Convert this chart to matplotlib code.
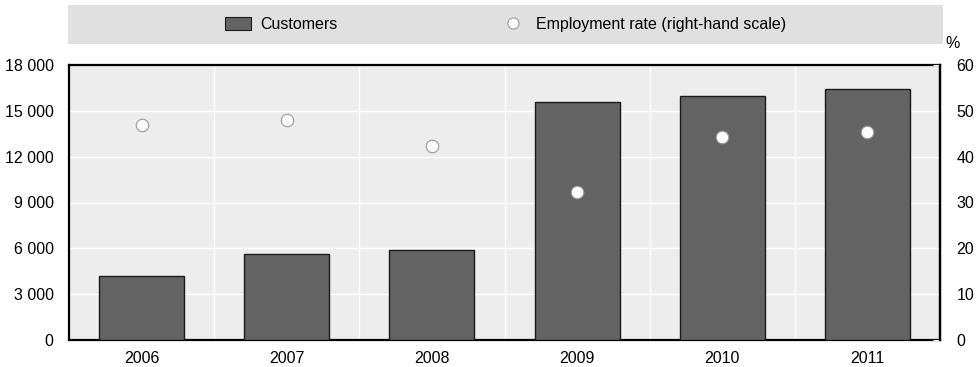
import matplotlib
matplotlib.use("Agg")
import matplotlib.pyplot as plt
import matplotlib.patches as mpatches
from matplotlib.lines import Line2D
from matplotlib.ticker import FuncFormatter

years = ["2006", "2007", "2008", "2009", "2010", "2011"]
customers = [4200, 5650, 5900, 15600, 15950, 16450]
employment_rate = [47.0, 47.9, 42.3, 32.3, 44.3, 45.4]

left_ticks = [0, 3000, 6000, 9000, 12000, 15000, 18000]
right_ticks = [0, 10, 20, 30, 40, 50, 60]

plt.rcParams['font.family'] = ['Liberation Sans Narrow', 'Liberation Sans', 'DejaVu Sans']
plt.rcParams['font.size'] = 11.5

BAR = '#636363'
BG = '#EDEDED'
BAND = '#E0E0E0'

W, H = 980, 367
fig = plt.figure(figsize=(W / 100, H / 100), dpi=100)

# main plot area (pixel box: x 69..940, y 65..340)
ax = fig.add_axes([69 / W, 1 - 340 / H, 871 / W, 275 / H])
ax.set_facecolor(BG)

x = list(range(len(years)))
ax.bar(x, customers, width=0.585, color=BAR, edgecolor='#1a1a1a',
       linewidth=1.0, zorder=3)

ax.set_xlim(-0.5, len(years) - 0.5)
ax.set_ylim(0, 18000)
ax.set_yticks(left_ticks)
ax.yaxis.set_major_formatter(FuncFormatter(lambda v, p: f"{int(v):,}".replace(",", " ")))
ax.set_xticks(x)
ax.set_xticklabels(years)
ax.tick_params(axis='both', length=0, pad=8, colors='black')
ax.tick_params(axis='y', pad=11)

# white grid: horizontal at ticks, vertical between categories
for v in left_ticks[1:-1]:
    ax.axhline(v, color='white', linewidth=1.0, zorder=1)
for b in range(1, len(years)):
    ax.axvline(b - 0.5, color='white', linewidth=1.0, zorder=1)

for side in ax.spines.values():
    side.set_linewidth(1.6)
    side.set_color('black')

ax2 = ax.twinx()
ax2.plot(x, employment_rate, linestyle='none', marker='o', markersize=9,
         markerfacecolor='white', markeredgecolor='#999999',
         markeredgewidth=0.8, zorder=5)
ax2.set_ylim(0, 60)
ax2.set_yticks(right_ticks)
ax2.tick_params(axis='y', direction='in', length=5, width=0.8,
                color='white', pad=12)
for name, side in ax2.spines.items():
    side.set_visible(name == 'right')
ax2.spines['right'].set_linewidth(1.6)
ax2.spines['right'].set_color('black')
fig.text(953 / W, 1 - 43 / H, "%", ha='center', va='center', fontsize=11.5)

# legend band across the top
lax = fig.add_axes([68 / W, 1 - 44 / H, 875 / W, 39 / H])
lax.set_facecolor(BAND)
lax.set_xticks([])
lax.set_yticks([])
for side in lax.spines.values():
    side.set_visible(False)

handles = [
    mpatches.Patch(facecolor=BAR, edgecolor='#1a1a1a', linewidth=0.8,
                   label='Customers'),
    Line2D([], [], linestyle='none', marker='o', markersize=8,
           markerfacecolor='white', markeredgecolor='#999999',
           markeredgewidth=0.8, label='Employment rate (right-hand scale)'),
]
lax.legend(handles=handles, loc='center', ncol=2, frameon=False,
           columnspacing=10.2, handlelength=1.6, handleheight=0.9,
           handletextpad=0.6, fontsize=11.5)

fig.savefig('out.png', dpi=100)
